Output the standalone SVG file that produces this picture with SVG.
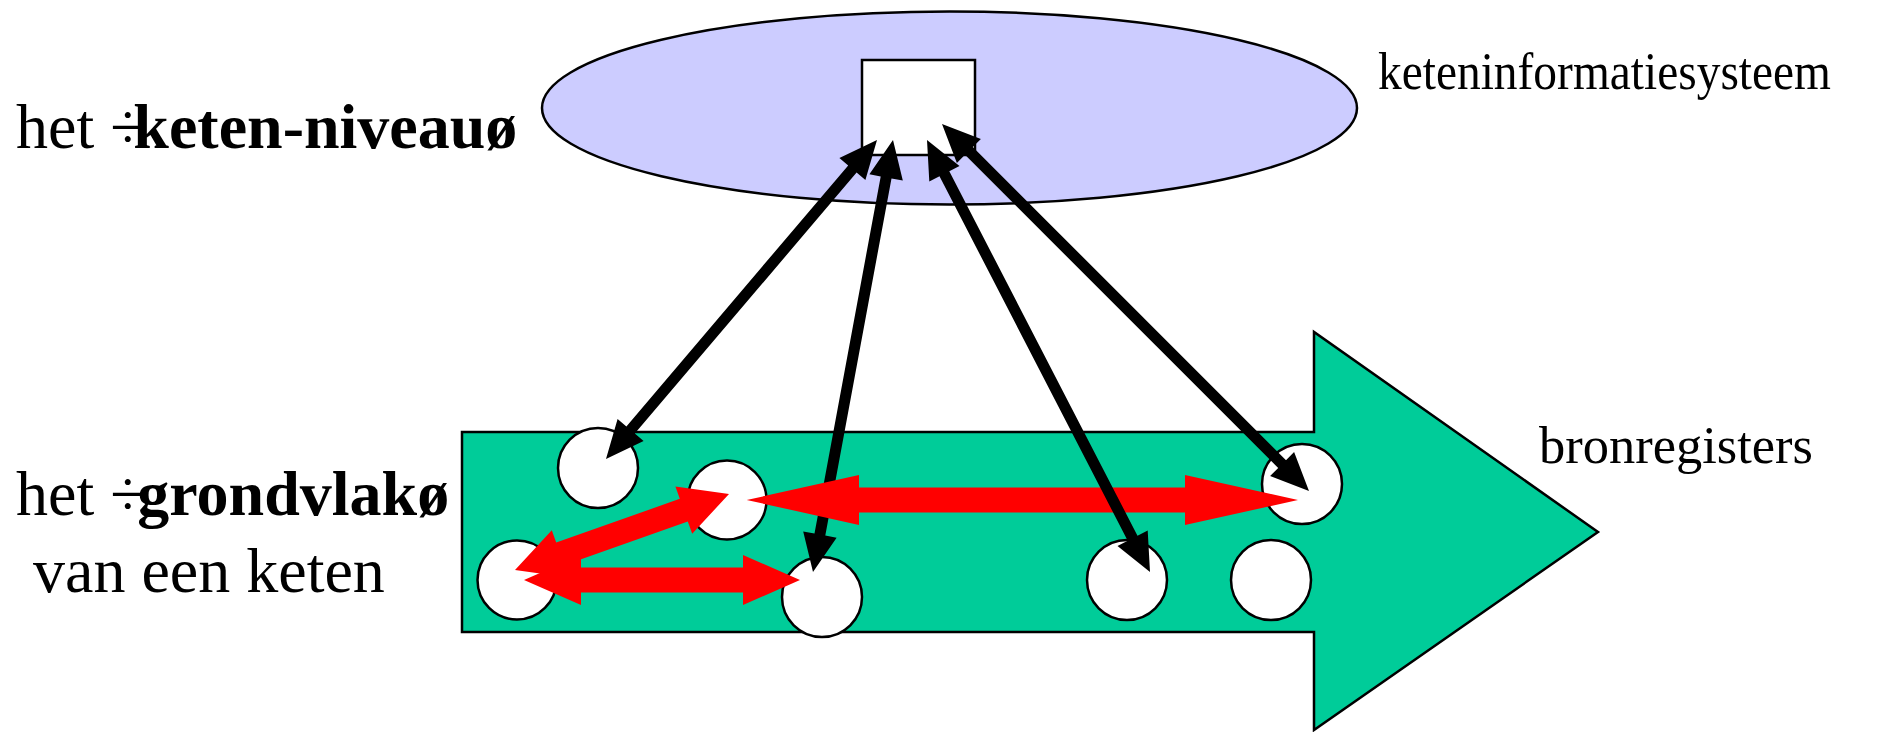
<svg xmlns="http://www.w3.org/2000/svg" width="1904" height="732" viewBox="0 0 1904 732">
<style>
.lbl{font-family:"Liberation Serif","Times New Roman",serif;fill:#000}
.big{font-size:64px}
.sm{font-size:53px}
.reg{stroke:#000;stroke-width:2.5;fill:#fff}
.blk{fill:#000;stroke:none}
.red{fill:#ff0000;stroke:none}
</style>
<rect width="1904" height="732" fill="#fff"/>
<g id="ketenniveau">
<ellipse cx="949.5" cy="108" rx="407.5" ry="96.5" fill="#ccccff" stroke="#000" stroke-width="2.5"/>
<rect id="kis" x="862" y="60" width="113" height="95" fill="#fff" stroke="#000" stroke-width="2.5"/>
</g>
<g id="grondvlak">
<polygon points="462,432 1314,432 1314,332 1598,532 1314,730 1314,632 462,632" fill="#00cc99" stroke="#000" stroke-width="2.5"/>
</g>
<g id="registers">
<circle id="r1" class="reg" cx="598" cy="468" r="40"/>
<circle id="r2" class="reg" cx="727" cy="500" r="39.5"/>
<circle id="r3" class="reg" cx="517" cy="580" r="39.5"/>
<circle id="r4" class="reg" cx="822" cy="597" r="40"/>
<circle id="r5" class="reg" cx="1302" cy="484" r="40"/>
<circle id="r6" class="reg" cx="1127" cy="580" r="40"/>
<circle id="r7" class="reg" cx="1271" cy="580" r="40"/>
</g>
<g id="connectors">
<polygon class="blk" points="877,140 865.4,180 856.6,172.6 634.8,433.6 643.6,441 606,459 617.6,419 626.4,426.4 848.2,165.4 839.4,158"/>
<polygon class="blk" points="893,140 902.8,180.5 891.5,178.4 825.3,535.6 836.6,537.7 813,572 803.2,531.5 814.5,533.6 880.7,176.4 869.4,174.3"/>
<polygon class="red" points="746.7,500 859,475 859,487.5 1185,487.5 1185,475 1298,500 1185,525 1185,512.5 859,512.5 859,525"/>
<polygon class="red" points="524,580 581,555 581,567.5 743,567.5 743,555 800,580 743,605 743,592.5 581,592.5 581,605"/>
<polygon class="red" points="515,570 551.8,530.3 556.2,542.6 679.8,498.8 675.4,486.5 729,494 692.2,533.7 687.8,521.4 564.2,565.2 568.6,577.5"/>
<polygon class="blk" points="927,140 959.5,166 949.3,171.3 1137.5,535.7 1147.7,530.4 1150,572 1117.5,546 1127.7,540.7 939.5,176.3 929.3,181.6"/>
<polygon class="blk" points="942,124 980.9,138.9 972.8,147 1286,460.2 1294.1,452.1 1309,491 1270.1,476.1 1278.2,468 965,154.8 956.9,162.9"/>
</g>
<g id="labels">
<text class="lbl big" x="16" y="148">het ÷<tspan dx="-12" font-weight="bold">keten-niveauø</tspan></text>
<text class="lbl big" x="16" y="515">het ÷<tspan dx="-8" font-weight="bold">grondvlakø</tspan></text>
<text class="lbl big" x="33" y="592">van een keten</text>
<text class="lbl sm" x="1378" y="89" textLength="453" lengthAdjust="spacingAndGlyphs">keteninformatiesysteem</text>
<text class="lbl sm" x="1539" y="463" textLength="274" lengthAdjust="spacingAndGlyphs">bronregisters</text>
</g>
</svg>
